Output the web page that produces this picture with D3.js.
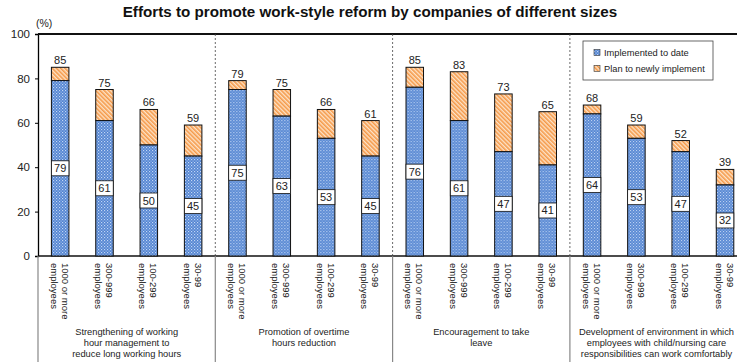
<!DOCTYPE html>
<html>
<head>
<meta charset="utf-8">
<script src="https://cdn.jsdelivr.net/npm/d3@7"></script>
<style>
  html, body { margin: 0; padding: 0; background: #fff; }
  svg { display: block; font-family: "Liberation Sans", Arial, sans-serif; }
</style>
</head>
<body>
<svg id="chart" width="737" height="362"></svg>
<script>
// Measures and their multi-line captions
const groups = [
  "Strengthening of working|hour management to|reduce long working hours",
  "Promotion of overtime|hours reduction",
  "Encouragement to take|leave",
  "Development of environment in which|employees with child/nursing care|responsibilities can work comfortably"
];
// Company size classes (two-line labels)
const sizes = ["1000 or more|employees", "300-999|employees", "100-299|employees", "30-99|employees"];
// Share already implemented (%)
const implemented = [
  [79, 61, 50, 45],
  [75, 63, 53, 45],
  [76, 61, 47, 41],
  [64, 53, 47, 32]
];
// Implemented + planned (%)
const totals = [
  [85, 75, 66, 59],
  [79, 75, 66, 61],
  [85, 83, 73, 65],
  [68, 59, 52, 39]
];
const yTicks = [0, 20, 40, 60, 80, 100];
const legendLabels = ["Implemented to date", "Plan to newly implement"];
const title = "Efforts to promote work-style reform by companies of different sizes";

const svg = d3.select("#chart");
const W = 737;
const plotLeft = 38, plotTop = 34, plotBottom = 256, groupW = 177.3;

const x0 = d3.scaleBand().domain(groups).range([plotLeft, plotLeft + groupW * groups.length]);
const x1 = d3.scaleBand().domain(sizes).range([0, groupW]).paddingInner(0.605).paddingOuter(0.3025);
const y = d3.scaleLinear().domain([0, 100]).range([plotBottom, plotTop]);

// Fill patterns: dotted blue and hatched orange
const defs = svg.append("defs");
const dots = defs.append("pattern").attr("id", "dots").attr("patternUnits", "userSpaceOnUse")
  .attr("width", 3).attr("height", 3);
dots.append("rect").attr("width", 3).attr("height", 3).attr("fill", "#5284d2");
dots.append("rect").attr("x", 0).attr("y", 0).attr("width", 1.2).attr("height", 1.2).attr("fill", "#c2d6f4");
dots.append("rect").attr("x", 1.5).attr("y", 1.5).attr("width", 1.2).attr("height", 1.2).attr("fill", "#a6c1ea");

const hatch = defs.append("pattern").attr("id", "hatch").attr("patternUnits", "userSpaceOnUse")
  .attr("width", 3).attr("height", 3).attr("patternTransform", "rotate(-45)");
hatch.append("rect").attr("width", 3).attr("height", 3).attr("fill", "#fde3c8");
hatch.append("rect").attr("width", 1.6).attr("height", 3).attr("fill", "#f59a4a");

// Title
svg.append("text").attr("x", 370).attr("y", 17).attr("text-anchor", "middle")
  .attr("font-size", 15.2).attr("font-weight", "bold").attr("fill", "#111").text(title);

// Unit label
svg.append("text").attr("x", 36).attr("y", 27).attr("font-size", 10.5).attr("fill", "#222").text("(%)");

// Y axis
const yAxis = d3.axisLeft(y).tickValues(yTicks).tickSize(3).tickPadding(5);
const ya = svg.append("g").attr("transform", `translate(${plotLeft},0)`).call(yAxis);
ya.select(".domain").attr("stroke", "#000").attr("stroke-width", 1.3);
ya.selectAll("text").attr("font-size", 11.5).attr("fill", "#222")
  .attr("font-family", "Liberation Sans, Arial, sans-serif");

// Frame: top line and baseline
svg.append("line").attr("x1", plotLeft).attr("x2", W).attr("y1", plotTop).attr("y2", plotTop)
  .attr("stroke", "#111").attr("stroke-width", 1.8);
svg.append("line").attr("x1", plotLeft).attr("x2", W).attr("y1", plotBottom).attr("y2", plotBottom)
  .attr("stroke", "#111").attr("stroke-width", 1.3);

// Group separators: dashed inside the plot, solid grey in the caption area
groups.forEach((g, gi) => {
  const gx = x0(g);
  if (gi > 0) {
    svg.append("line").attr("x1", gx).attr("x2", gx).attr("y1", plotTop).attr("y2", plotBottom)
      .attr("stroke", "#444").attr("stroke-width", 0.8).attr("stroke-dasharray", "2,2");
  }
  svg.append("line").attr("x1", gx).attr("x2", gx).attr("y1", plotBottom).attr("y2", 362)
    .attr("stroke", "#888").attr("stroke-width", 1.2);
});

// Bars
groups.forEach((g, gi) => {
  const gGroup = svg.append("g").attr("transform", `translate(${x0(g)},0)`);
  sizes.forEach((s, si) => {
    const bx = x1(s), bw = x1.bandwidth();
    const imp = implemented[gi][si], tot = totals[gi][si];
    // planned part on top
    gGroup.append("rect").attr("x", bx).attr("y", y(tot)).attr("width", bw).attr("height", y(imp) - y(tot))
      .attr("fill", "url(#hatch)").attr("stroke", "#111").attr("stroke-width", 1);
    // implemented part
    gGroup.append("rect").attr("x", bx).attr("y", y(imp)).attr("width", bw).attr("height", y(0) - y(imp))
      .attr("fill", "url(#dots)").attr("stroke", "#111").attr("stroke-width", 1);
    // value box for implemented share
    const cy = y(imp / 2);
    gGroup.append("rect").attr("x", bx).attr("y", cy - 7.5).attr("width", bw).attr("height", 15)
      .attr("fill", "#fff").attr("stroke", "#111").attr("stroke-width", 0.8);
    gGroup.append("text").attr("x", bx + bw / 2).attr("y", cy + 4).attr("text-anchor", "middle")
      .attr("font-size", 11).attr("fill", "#222").text(imp);
    // total above bar
    gGroup.append("text").attr("x", bx + bw / 2).attr("y", y(tot) - 3).attr("text-anchor", "middle")
      .attr("font-size", 11).attr("fill", "#222").text(tot);
    // rotated size label
    const cx = bx + bw / 2;
    const lines = s.split("|");
    const lbl = gGroup.append("text").attr("transform", `translate(${cx},263) rotate(90)`)
      .attr("font-size", 9.5).attr("fill", "#222");
    lines.forEach((t, li) => {
      lbl.append("tspan").attr("x", 0).attr("y", li === 0 ? -1.5 : 9.5).text(t);
    });
  });
  // group caption, kept inside the right edge
  const cap = svg.append("text").attr("text-anchor", "middle")
    .attr("font-size", 9.3).attr("fill", "#222");
  const capLines = g.split("|").map((t, li) =>
    cap.append("tspan").attr("y", 335 + li * 11).text(t));
  const widest = d3.max(capLines, t => t.node().getComputedTextLength());
  const cxCap = Math.min(x0(g) + groupW / 2, W - 3 - widest / 2);
  capLines.forEach(t => t.attr("x", cxCap));
});

// Legend
const lg = svg.append("g");
lg.append("rect").attr("x", 583).attr("y", 41).attr("width", 130).attr("height", 39)
  .attr("fill", "#fff").attr("stroke", "#444").attr("stroke-width", 0.8);
legendLabels.forEach((t, i) => {
  const ly = 52.5 + i * 15.8;
  lg.append("rect").attr("x", 594).attr("y", ly - 3).attr("width", 6).attr("height", 6)
    .attr("fill", i === 0 ? "url(#dots)" : "url(#hatch)").attr("stroke", "#333").attr("stroke-width", 0.6);
  lg.append("text").attr("x", 604).attr("y", ly + 3.5).attr("font-size", 9.3).attr("fill", "#222").text(t);
});
</script>
</body>
</html>
